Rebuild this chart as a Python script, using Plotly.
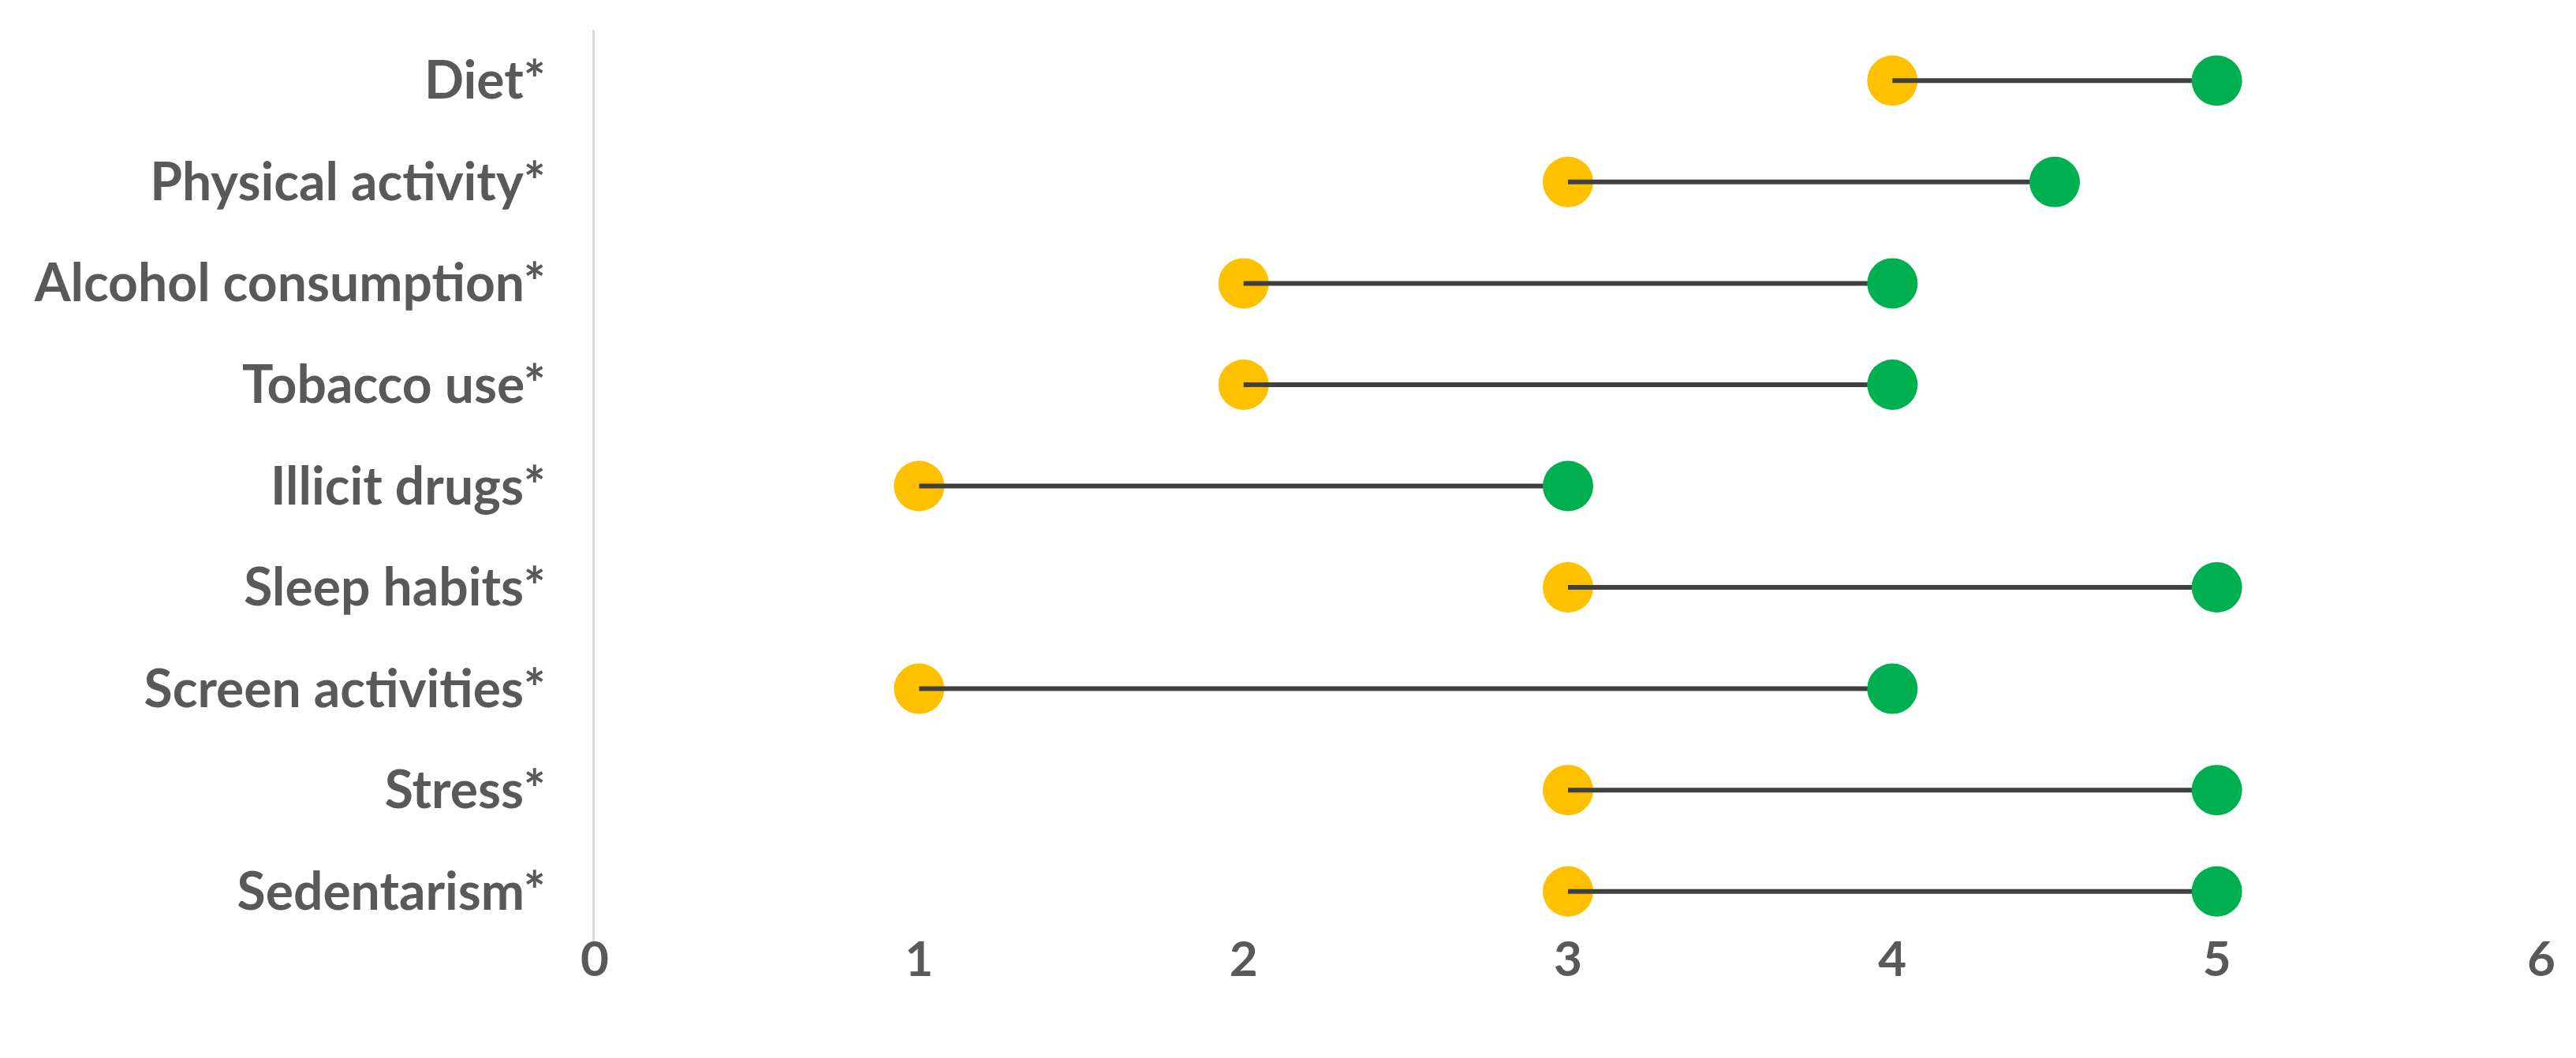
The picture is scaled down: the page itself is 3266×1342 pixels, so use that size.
import plotly.graph_objects as go

categories = ["Diet*", "Physical activity*", "Alcohol consumption*", "Tobacco use*",
              "Illicit drugs*", "Sleep habits*", "Screen activities*", "Stress*", "Sedentarism*"]
before_vals = [4, 3, 2, 2, 1, 3, 1, 3, 3]
after_vals = [5, 4.5, 4, 4, 3, 5, 4, 5, 5]
x_ticks = [0, 1, 2, 3, 4, 5, 6]

YELLOW = "#FFC000"
GREEN = "#00B050"
TXT = "#595959"
FONT = "Lato"

lx, ly = [], []
for c, a, b in zip(categories, before_vals, after_vals):
    lx += [a, b, None]
    ly += [c, c, None]

fig = go.Figure()
fig.add_trace(go.Scatter(x=before_vals, y=categories, mode="markers",
                         marker=dict(color=YELLOW, size=64, line=dict(width=0)),
                         showlegend=False))
fig.add_trace(go.Scatter(x=lx, y=ly, mode="lines",
                         line=dict(color="#404040", width=6),
                         showlegend=False, connectgaps=False))
fig.add_trace(go.Scatter(x=after_vals, y=categories, mode="markers",
                         marker=dict(color=GREEN, size=64, line=dict(width=0)),
                         showlegend=False))

fig.update_layout(
    width=3266, height=1342,
    margin=dict(l=746, r=52, t=30, b=155),
    plot_bgcolor="white", paper_bgcolor="white",
    font=dict(family=FONT, size=66, color=TXT, weight="bold"),
    xaxis=dict(range=[0, 6], tickvals=x_ticks, ticktext=[str(v) for v in x_ticks],
               showgrid=False, zeroline=False, showline=False,
               ticks="", ticklabelstandoff=-20,
               tickfont=dict(family=FONT, size=62, color=TXT, weight="bold")),
    yaxis=dict(categoryorder="array", categoryarray=categories[::-1],
               range=[-0.5, len(categories) - 0.5],
               showgrid=False, zeroline=False, showline=True,
               linecolor="#D9D9D9", linewidth=3,
               ticks="outside", ticklen=46, tickcolor="rgba(0,0,0,0)",
               tickfont=dict(family=FONT, size=66, color=TXT, weight="bold")),
)

fig.write_html("out.html")
